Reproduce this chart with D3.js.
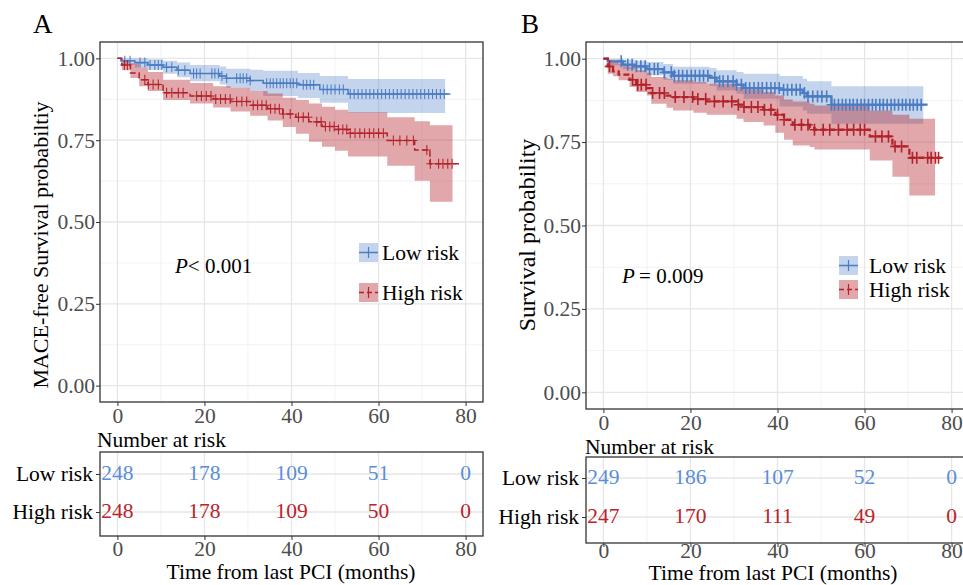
<!DOCTYPE html>
<html>
<head>
<meta charset="utf-8">
<script src="https://cdn.jsdelivr.net/npm/d3@7"></script>
<style>
  body { margin: 0; background: #fff; }
  text { font-family: "Liberation Serif", "Times New Roman", serif; }
</style>
</head>
<body>
<svg id="chart" width="963" height="585"></svg>
<script>
// tick values
const timeTicks = [0, 20, 40, 60, 80]
const timeMinor = [10, 30, 50, 70]
const survTicks = [0, 0.25, 0.5, 0.75, 1]
const survMinor = [0.125, 0.375, 0.625, 0.875]
const groups = ['Low risk', 'High risk']

// Panel A, low risk (step start times, survival, CI)
const aLowTime = [0, 0.8, 4, 7, 10.5, 13.7, 16.7, 23.5, 25, 30.5, 33.5, 41.5, 46.5, 53]
const aLowSurv = [1, 0.993, 0.987, 0.98, 0.973, 0.964, 0.954, 0.946, 0.939, 0.932, 0.924, 0.919, 0.905, 0.891]
const aLowLower = [1, 0.98, 0.972, 0.965, 0.953, 0.942, 0.93, 0.92, 0.91, 0.9, 0.885, 0.879, 0.864, 0.833]
const aLowUpper = [1, 1, 1, 0.997, 0.993, 0.987, 0.98, 0.975, 0.968, 0.965, 0.962, 0.955, 0.946, 0.937]
const aLowLast = 76.5
const aLowBandEnd = 75.3
const aLowCensor = [1.7, 2.9, 5.2, 6.3, 7.5, 8.6, 9.4, 10.2, 11.3, 12.5, 14, 15.5, 17.5, 18.2, 19, 21.7, 22.4, 23.2, 24, 25.1,
  27.4, 28.2, 28.9, 29.7, 30.5, 34.3, 35.1, 35.8, 36.6, 37.4, 38.1, 38.9, 39.7, 40.4, 41.2, 42.7, 43.5, 44.3, 45.1,
  47.3, 48.2, 49.1, 50, 51, 51.9, 53.5, 54.4, 55.3, 56.2, 57.1, 58, 58.9, 59.8, 60.7, 61.6, 62.5, 63.4, 64.3, 65.2,
  66.1, 67, 67.9, 68.8, 69.7, 70.6, 71.5, 72.4, 73.3, 74.2, 75.1]

// Panel A, high risk
const aHighTime = [0, 1, 3, 5, 7, 10.5, 16.7, 22, 26, 30.5, 34.5, 38, 41, 44, 47, 50, 53, 62, 68.3, 71.8]
const aHighSurv = [1, 0.98, 0.955, 0.935, 0.92, 0.895, 0.885, 0.876, 0.868, 0.857, 0.846, 0.83, 0.82, 0.806, 0.792, 0.783, 0.771, 0.749, 0.72, 0.678]
const aHighLower = [1, 0.964, 0.94, 0.915, 0.9, 0.873, 0.862, 0.85, 0.838, 0.825, 0.81, 0.79, 0.77, 0.745, 0.73, 0.718, 0.7, 0.672, 0.626, 0.562]
const aHighUpper = [1, 0.995, 0.985, 0.972, 0.958, 0.935, 0.925, 0.915, 0.91, 0.9, 0.893, 0.88, 0.873, 0.862, 0.852, 0.843, 0.835, 0.82, 0.808, 0.796]
const aHighLast = 78.8
const aHighBandEnd = 77
const aHighCensor = [1.6, 2.3, 6.3, 7.1, 8.2, 9.4, 11.3, 12.5, 14, 15.1, 18.2, 19.3, 20.4, 21.5, 22.6, 23.7, 24.8, 25.9,
  27.4, 28.6, 29.7, 31.2, 32.2, 33.2, 34.2, 35.2, 36.2, 37.2, 38.1, 39.7, 41.6, 42.7, 43.9, 45.8, 46.8, 47.8, 48.8,
  49.8, 50.8, 51.8, 52.7, 53.5, 54.6, 55.7, 56.8, 57.9, 58.9, 60, 61.1, 63.4, 64.9, 66.5, 68, 71.1, 71.9, 73.8, 74.8,
  75.9, 76.9]

// Panel B, low risk
const bLowTime = [0, 1, 4.5, 7.4, 9.9, 13.8, 16, 24.4, 26, 30.6, 32.2, 40.5, 45.8, 46.8, 52.4]
const bLowSurv = [1, 0.992, 0.982, 0.977, 0.969, 0.959, 0.949, 0.943, 0.932, 0.922, 0.912, 0.907, 0.897, 0.887, 0.862]
const bLowLower = [1, 0.98, 0.968, 0.96, 0.95, 0.937, 0.925, 0.918, 0.905, 0.895, 0.88, 0.857, 0.845, 0.835, 0.805]
const bLowUpper = [1, 1, 0.997, 0.994, 0.99, 0.984, 0.976, 0.972, 0.965, 0.96, 0.955, 0.948, 0.94, 0.932, 0.917]
const bLowLast = 74.5
const bLowBandEnd = 73.5
const bLowCensor = [4.1, 5.6, 6.6, 7.6, 8.6, 9.6, 10.6, 11.7, 12.5, 14, 15.6, 16.3, 17.3, 18.2, 19.2, 20.2, 21.1, 22.1,
  23, 24, 25.6, 26.7, 27.5, 28.6, 29.8, 30.6, 31.7, 32.7, 33.6, 34.6, 35.6, 36.5, 37.5, 38.5, 39.4, 40.4, 41.4, 42.3,
  43.3, 44.3, 45.2, 46.2, 47, 48.1, 49.2, 50.2, 51.3, 52.4, 53.1, 54, 54.9, 55.7, 56.6, 57.4, 58.3, 59.2, 60, 60.9,
  61.8, 62.6, 63.5, 64.3, 65.2, 66.1, 66.9, 67.8, 68.7, 69.5, 70.4, 71.2, 72.1, 73]

// Panel B, high risk
const bHighTime = [0, 1, 2.2, 3.5, 6, 7.5, 10, 11, 14.5, 16, 20.7, 23.7, 30.6, 32.2, 36.8, 39.5, 41.5, 43.5, 47.4, 48.5, 61.2, 66.4, 70.3]
const bHighSurv = [1, 0.977, 0.962, 0.952, 0.937, 0.922, 0.912, 0.897, 0.889, 0.885, 0.879, 0.872, 0.862, 0.855, 0.847, 0.832, 0.817, 0.802, 0.792, 0.787, 0.767, 0.737, 0.703]
const bHighLower = [1, 0.955, 0.947, 0.935, 0.915, 0.9, 0.89, 0.865, 0.853, 0.845, 0.838, 0.832, 0.82, 0.81, 0.8, 0.778, 0.757, 0.74, 0.735, 0.728, 0.695, 0.646, 0.59]
const bHighUpper = [1, 0.995, 0.99, 0.985, 0.975, 0.965, 0.958, 0.945, 0.94, 0.935, 0.93, 0.925, 0.915, 0.908, 0.9, 0.89, 0.878, 0.872, 0.865, 0.86, 0.845, 0.832, 0.82]
const bHighLast = 77.7
const bHighBandEnd = 76.2
const bHighCensor = [1.4, 6.7, 7.9, 8.7, 9.8, 11.3, 12.9, 14, 16.5, 18.5, 20.5, 21.7, 23.5, 25.5, 27.5, 29.5, 31, 32.3,
  34, 35.5, 37, 38.5, 40, 41.5, 44, 45.5, 47, 48.5, 50.5, 52, 54, 56, 57.5, 59, 60, 62.5, 64, 65.5, 67, 68.5, 71, 72,
  74.5, 75.3, 76.3, 77]

// number at risk at timeTicks
const aRiskLow = [248, 178, 109, 51, 0]
const aRiskHigh = [248, 178, 109, 50, 0]
const bRiskLow = [249, 186, 107, 52, 0]
const bRiskHigh = [247, 170, 111, 49, 0]

const lineColor = ['#4a7cc4', '#b3222b']
const numColor = ['#5b8dd8', '#b8242c']
const bandOpacity = [0.33, 0.4]

const svg = d3.select('#chart')

function stepAt(times, vals, t) {
  let v = vals[0]
  for (let i = 0; i < times.length; i++) if (times[i] <= t) v = vals[i]
  return v
}

function drawPanel(p) {
  const g = svg.append('g')
  const x = d3.scaleLinear().domain([-4, 84]).range([p.left, p.right])
  const y = d3.scaleLinear().domain([-0.05, 1.05]).range([p.bottom, p.top])

  // panel label
  g.append('text').attr('x', p.labelX).attr('y', 33)
    .style('font-size', '27px').attr('fill', '#000').text(p.label)

  // grid
  const grid = g.append('g')
  grid.selectAll('.vmin').data(timeMinor).enter().append('line')
    .attr('x1', d => x(d)).attr('x2', d => x(d)).attr('y1', p.top).attr('y2', p.bottom)
    .attr('stroke', '#f0f0f0').attr('stroke-width', 0.9)
  grid.selectAll('.hmin').data(survMinor).enter().append('line')
    .attr('y1', d => y(d)).attr('y2', d => y(d)).attr('x1', p.left).attr('x2', p.right)
    .attr('stroke', '#f0f0f0').attr('stroke-width', 0.9)
  grid.selectAll('.vmaj').data(timeTicks).enter().append('line')
    .attr('x1', d => x(d)).attr('x2', d => x(d)).attr('y1', p.top).attr('y2', p.bottom)
    .attr('stroke', '#e6e6e6').attr('stroke-width', 1.3)
  grid.selectAll('.hmaj').data(survTicks).enter().append('line')
    .attr('y1', d => y(d)).attr('y2', d => y(d)).attr('x1', p.left).attr('x2', p.right)
    .attr('stroke', '#e6e6e6').attr('stroke-width', 1.3)

  // bands then lines
  p.series.forEach((s, i) => {
    const pts = s.time.map((t, j) => [t, s.lower[j], s.upper[j]])
    pts.push([s.bandEnd, s.lower[s.lower.length - 1], s.upper[s.upper.length - 1]])
    const area = d3.area().curve(d3.curveStepAfter)
      .x(d => x(d[0])).y0(d => y(d[1])).y1(d => y(d[2]))
    g.append('path').datum(pts).attr('d', area)
      .attr('fill', lineColor[i]).attr('fill-opacity', bandOpacity[i])
  })
  p.series.forEach((s, i) => {
    const pts = s.time.map((t, j) => [t, s.surv[j]])
    pts.push([s.last, s.surv[s.surv.length - 1]])
    const line = d3.line().curve(d3.curveStepAfter).x(d => x(d[0])).y(d => y(d[1]))
    g.append('path').datum(pts).attr('d', line)
      .attr('fill', 'none').attr('stroke', lineColor[i]).attr('stroke-width', p.lw)
      .attr('stroke-dasharray', i === 1 ? '6,3' : null)
    const cs = p.censorSize
    g.append('g').selectAll('path').data(s.censor).enter().append('path')
      .attr('d', d => {
        const cx = x(d), cy = y(stepAt(s.time, s.surv, d))
        return `M${cx},${cy - cs}V${cy + cs}M${cx - cs * 0.8},${cy}H${cx + cs * 0.8}`
      })
      .attr('stroke', lineColor[i]).attr('stroke-width', p.lw * 0.7).attr('fill', 'none')
  })

  // border
  g.append('rect').attr('x', p.left).attr('y', p.top)
    .attr('width', p.right - p.left).attr('height', p.bottom - p.top)
    .attr('fill', 'none').attr('stroke', '#333').attr('stroke-width', 1.3)

  // axes
  const yAxis = g.append('g').attr('transform', `translate(${p.left},0)`)
    .call(d3.axisLeft(y).tickValues(survTicks).tickFormat(d3.format('.2f')).tickSize(4).tickPadding(1))
  const xAxis = g.append('g').attr('transform', `translate(0,${p.bottom})`)
    .call(d3.axisBottom(x).tickValues(timeTicks).tickSize(4).tickPadding(p.xPad))
  ;[yAxis, xAxis].forEach(a => {
    a.select('.domain').remove()
    a.selectAll('line').attr('stroke', '#333')
    a.selectAll('text').style('font-size', '21.5px').attr('fill', '#4d4d4d')
      .style('font-family', '"Liberation Serif", serif')
  })

  // y title
  g.append('text').attr('transform', `translate(${p.ylabX},${p.ylabY}) rotate(-90)`)
    .attr('text-anchor', 'middle').style('font-size', p.ylabSize + 'px').attr('fill', '#000')
    .text(p.ylab)

  // p value
  const pt = g.append('text').attr('x', p.pX).attr('y', p.pY).style('font-size', '21px').attr('fill', '#000')
  pt.append('tspan').style('font-style', 'italic').text('P')
  pt.append('tspan').text(p.pText)

  // legend
  groups.forEach((name, i) => {
    const ky = p.legY[i], k = 19
    g.append('rect').attr('x', p.legX).attr('y', ky).attr('width', k).attr('height', k)
      .attr('fill', lineColor[i]).attr('fill-opacity', bandOpacity[i])
    g.append('line').attr('x1', p.legX).attr('x2', p.legX + k).attr('y1', ky + k / 2).attr('y2', ky + k / 2)
      .attr('stroke', lineColor[i]).attr('stroke-width', 1.5)
      .attr('stroke-dasharray', i === 1 ? '5,3' : null)
    g.append('line').attr('x1', p.legX + k / 2).attr('x2', p.legX + k / 2).attr('y1', ky + 4).attr('y2', ky + k - 4)
      .attr('stroke', lineColor[i]).attr('stroke-width', 1.2)
    g.append('text').attr('x', p.legTextX).attr('y', ky + k / 2).attr('dy', '0.33em')
      .style('font-size', '21.5px').attr('fill', '#000').text(name)
  })

  // risk table
  const t = p.table
  const ry = d3.scalePoint().domain(groups).range(t.rows)
  g.append('text').attr('x', p.narX).attr('y', p.narY).style('font-size', '21.5px').attr('fill', '#000')
    .text('Number at risk')
  const tg = g.append('g')
  tg.selectAll('.tvmin').data(timeMinor).enter().append('line')
    .attr('x1', d => x(d)).attr('x2', d => x(d)).attr('y1', t.top).attr('y2', t.bottom)
    .attr('stroke', '#f0f0f0').attr('stroke-width', 0.9)
  tg.selectAll('.tvmaj').data(timeTicks).enter().append('line')
    .attr('x1', d => x(d)).attr('x2', d => x(d)).attr('y1', t.top).attr('y2', t.bottom)
    .attr('stroke', '#e6e6e6').attr('stroke-width', 1.3)
  tg.selectAll('.th').data(groups).enter().append('line')
    .attr('y1', d => ry(d)).attr('y2', d => ry(d)).attr('x1', p.left).attr('x2', p.right)
    .attr('stroke', '#e6e6e6').attr('stroke-width', 1.3)
  t.counts.forEach((row, i) => {
    tg.selectAll(null).data(row).enter().append('text')
      .attr('x', (d, j) => x(timeTicks[j])).attr('y', ry(groups[i])).attr('dy', '0.3em')
      .attr('text-anchor', 'middle').style('font-size', '21.5px').attr('fill', numColor[i])
      .text(d => d)
  })
  tg.append('rect').attr('x', p.left).attr('y', t.top)
    .attr('width', p.right - p.left).attr('height', t.bottom - t.top)
    .attr('fill', 'none').attr('stroke', '#333').attr('stroke-width', 1.3)
  const tyAxis = tg.append('g').attr('transform', `translate(${p.left},0)`)
    .call(d3.axisLeft(ry).tickSize(4).tickPadding(3))
  const txAxis = tg.append('g').attr('transform', `translate(0,${t.bottom})`)
    .call(d3.axisBottom(x).tickValues(timeTicks).tickSize(4).tickPadding(t.xPad))
  ;[tyAxis, txAxis].forEach(a => {
    a.select('.domain').remove()
    a.selectAll('line').attr('stroke', '#333')
    a.selectAll('text').style('font-size', '21.5px').style('font-family', '"Liberation Serif", serif')
  })
  tyAxis.selectAll('text').attr('fill', '#000').attr('dy', '0.3em')
  txAxis.selectAll('text').attr('fill', '#4d4d4d')

  g.append('text').attr('x', p.titleX).attr('y', p.titleY).attr('text-anchor', 'middle')
    .style('font-size', '21.5px').attr('fill', '#000').text('Time from last PCI (months)')
}

drawPanel({
  label: 'A', labelX: 33,
  left: 100, right: 483, top: 42, bottom: 402, xPad: 2, lw: 1.5, censorSize: 5,
  ylab: 'MACE-free Survival probabiltiy', ylabX: 48, ylabY: 245, ylabSize: 22,
  pText: '< 0.001', pX: 175, pY: 273,
  legX: 359, legY: [243, 283], legTextX: 382,
  narX: 97, narY: 447,
  table: { top: 452, bottom: 536, rows: [474, 512], xPad: 0.5, counts: [aRiskLow, aRiskHigh] },
  titleX: 291, titleY: 579,
  series: [
    { time: aLowTime, surv: aLowSurv, lower: aLowLower, upper: aLowUpper, last: aLowLast, bandEnd: aLowBandEnd, censor: aLowCensor },
    { time: aHighTime, surv: aHighSurv, lower: aHighLower, upper: aHighUpper, last: aHighLast, bandEnd: aHighBandEnd, censor: aHighCensor }
  ]
})

drawPanel({
  label: 'B', labelX: 521,
  left: 586, right: 969, top: 42, bottom: 409, xPad: 2, lw: 2.3, censorSize: 6,
  ylab: 'Survival probability', ylabX: 535, ylabY: 235, ylabSize: 24,
  pText: '\u2009= 0.009', pX: 622, pY: 283,
  legX: 839, legY: [256, 280], legTextX: 869,
  narX: 585, narY: 454,
  table: { top: 457, bottom: 543, rows: [478, 517], xPad: -4, counts: [bRiskLow, bRiskHigh] },
  titleX: 773, titleY: 580,
  series: [
    { time: bLowTime, surv: bLowSurv, lower: bLowLower, upper: bLowUpper, last: bLowLast, bandEnd: bLowBandEnd, censor: bLowCensor },
    { time: bHighTime, surv: bHighSurv, lower: bHighLower, upper: bHighUpper, last: bHighLast, bandEnd: bHighBandEnd, censor: bHighCensor }
  ]
})
</script>
</body>
</html>
